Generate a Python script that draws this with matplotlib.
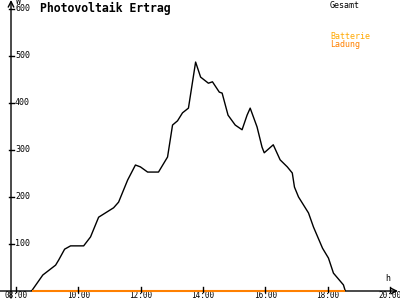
import matplotlib
matplotlib.use('Agg')
import matplotlib.pyplot as plt
from matplotlib.transforms import blended_transform_factory

# Stunden (dezimal) und Leistung in W
hours = [8.50, 8.86, 9.27, 9.37, 9.56, 9.75, 10.17, 10.39, 10.65, 11.13, 11.29, 11.58,
         11.83, 11.99, 12.22, 12.57, 12.86, 13.02, 13.18, 13.34, 13.53, 13.76, 13.92,
         14.17, 14.30, 14.52, 14.61, 14.80, 15.03, 15.25, 15.41, 15.51, 15.73, 15.89,
         15.96, 16.25, 16.47, 16.70, 16.86, 16.93, 17.06, 17.38, 17.54, 17.83, 18.02,
         18.18, 18.50, 18.56]
gesamt = [0, 34, 55, 66, 89, 96, 96, 115, 157, 177, 189, 236,
          268, 264, 253, 253, 285, 353, 362, 379, 389, 487, 455,
          442, 445, 423, 421, 374, 353, 343, 374, 389, 349, 306,
          294, 311, 279, 264, 251, 221, 200, 166, 136, 91, 70,
          38, 13, 0]
ladung_start, ladung_end = 8.52, 18.56

xticks = [8, 10, 12, 14, 16, 18, 20]
xlabels = ['08:00', '10:00', '12:00', '14:00', '16:00', '18:00', '20:00']
yticks = [100, 200, 300, 400, 500, 600]

plt.rcParams['font.family'] = ['DejaVu Sans Mono']
fig = plt.figure(figsize=(4, 3), dpi=100)
ax = fig.add_axes([11 / 400, 9 / 300, 387 / 400, 291 / 300])
ax.set_xlim(7.84, 20.25)
ax.set_ylim(0, 619)
ax.axis('off')

orange = '#ff8000'
ax.plot(hours, gesamt, color='black', lw=1, zorder=3)

# Achsen
ax.annotate('', xy=(20.25, 0), xytext=(7.49, 0), annotation_clip=False,
            arrowprops=dict(arrowstyle='->', color='black', lw=1, shrinkA=0, shrinkB=0))
ax.annotate('', xy=(7.84, 619), xytext=(7.84, -15), annotation_clip=False,
            arrowprops=dict(arrowstyle='->', color='black', lw=1, shrinkA=0, shrinkB=0))
ax.plot([ladung_start, ladung_end], [0, 0], color=orange, lw=1.5,
        solid_capstyle='butt', zorder=5, clip_on=False)

# x-Beschriftung am unteren Bildrand
trans = blended_transform_factory(ax.transData, fig.transFigure)
for t, lab in zip(xticks, xlabels):
    ax.plot([t, t], [-3, 8], color='black', lw=1, clip_on=False, zorder=6)
    ax.text(t, 0.0, lab, ha='center', va='bottom', fontsize=5.5, transform=trans)
for v in yticks:
    ax.plot([7.76, 7.93], [v, v], color='black', lw=1, clip_on=False)
    ax.text(7.97, v, str(v), ha='left', va='center', fontsize=6)

ax.text(8.0, 626, 'W', ha='left', va='top', fontsize=6)
ax.text(19.92, 18, 'h', ha='center', va='bottom', fontsize=6)

fig.text(40 / 400, 1 - 2 / 300, 'Photovoltaik Ertrag', ha='left', va='top',
         fontsize=8.3, fontweight='bold')
fig.text(330 / 400, 1 - 1 / 300, 'Gesamt', ha='left', va='top', fontsize=6, color='black')
fig.text(330 / 400, 1 - 32 / 300, 'Batterie', ha='left', va='top', fontsize=6, color='#ffa800')
fig.text(330 / 400, 1 - 40 / 300, 'Ladung', ha='left', va='top', fontsize=6, color=orange)

fig.savefig('out.png', dpi=100)
